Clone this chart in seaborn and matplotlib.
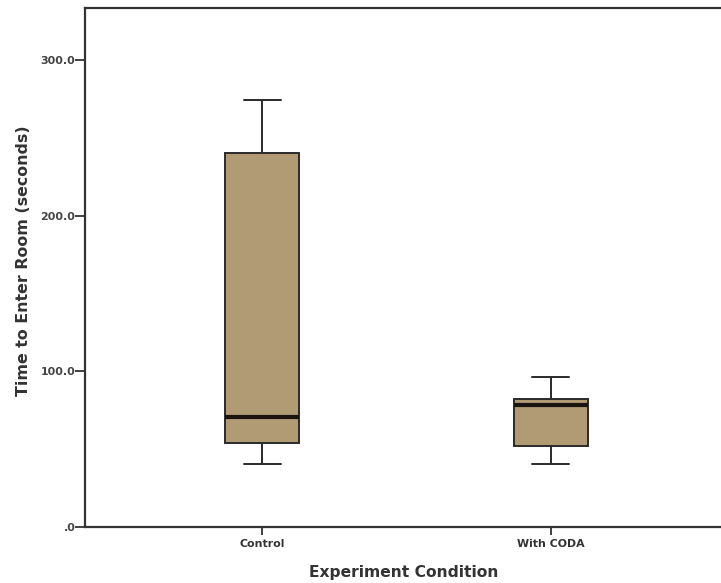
import numpy as np
import pandas as pd
import matplotlib
matplotlib.use("Agg")
import matplotlib.pyplot as plt
import seaborn as sns

# Five-number summaries (min, Q1, median, Q3, max)
categories = ["Control", "With CODA"]
control_times = [40.0, 54.0, 70.5, 240.0, 274.5]
coda_times = [40.0, 52.0, 78.5, 82.0, 96.0]
y_ticks = [0, 100, 200, 300]
y_tick_labels = [".0", "100.0", "200.0", "300.0"]

df = pd.DataFrame({
    "Condition": [categories[0]] * len(control_times) + [categories[1]] * len(coda_times),
    "Time": control_times + coda_times,
})

sns.set_style("white")
plt.rcParams["font.family"] = ["DejaVu Sans"]

fig = plt.figure(figsize=(7.21, 5.83), dpi=100)
ax_l, ax_r, ax_b, ax_t = 85, 728, 526.7, 8
ax = fig.add_axes([ax_l / 721, (583 - ax_b) / 583, (ax_r - ax_l) / 721, (ax_b - ax_t) / 583])

line_col = "#2a2a2a"
sns.boxplot(
    data=df, x="Condition", y="Time", order=categories,
    color="#B19B75", saturation=1, width=0.257, whis=np.inf,
    linecolor=line_col, linewidth=1.4,
    medianprops={"linewidth": 3.0, "color": "#1a1410"},
    ax=ax,
)

ax.set_xlim(-0.615, 1.615)
ax.set_ylim(0, 333.4)
ax.set_yticks(y_ticks)
ax.set_yticklabels(y_tick_labels)

for side in ["left", "bottom", "top", "right"]:
    ax.spines[side].set_visible(True)
    ax.spines[side].set_color("#333333")
    ax.spines[side].set_linewidth(1.6)

ax.tick_params(axis="y", direction="out", length=7, width=1.3, color="#333333",
               labelsize=7.9, labelcolor="#444444", pad=0, left=True)
ax.tick_params(axis="x", direction="out", length=6, width=1.3, color="#333333",
               labelsize=7.9, labelcolor="#333333", pad=3, bottom=True)
for lab in ax.get_xticklabels() + ax.get_yticklabels():
    lab.set_fontweight("bold")

ax.set_ylabel("Time to Enter Room (seconds)", fontsize=11.4, fontweight="bold",
              color="#333333")
ax.set_xlabel("Experiment Condition", fontsize=11.2, fontweight="bold",
              color="#333333")
w = ax_r - ax_l
h = ax_b - ax_t
ax.xaxis.set_label_coords((404 - ax_l) / w, -(572 - ax_b) / h)
ax.xaxis.label.set_va("center")
ax.yaxis.set_label_coords(-(ax_l - 24) / w, (ax_b - 261) / h)
ax.yaxis.label.set_va("center")

fig.savefig("out.png", dpi=100)
